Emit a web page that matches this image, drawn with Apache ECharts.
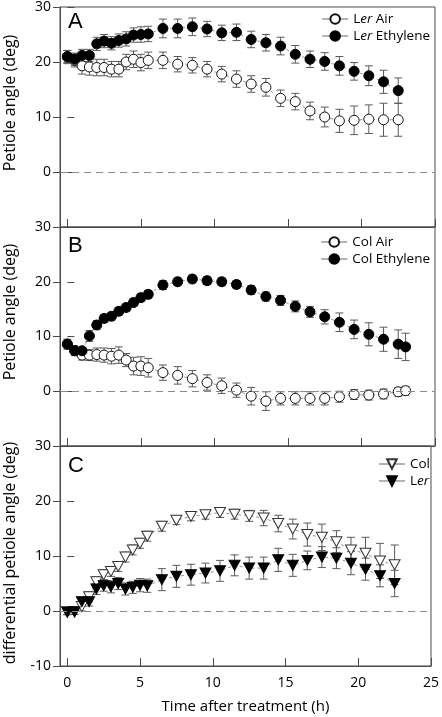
<!DOCTYPE html>
<html>
<head>
<meta charset="utf-8">
<script src="https://cdn.jsdelivr.net/npm/echarts@6/dist/echarts.min.js"></script>
<style>
html,body{margin:0;padding:0;background:#fff;}
#c{width:442px;height:717px;}
</style>
</head>
<body>
<div id="c"></div>
<script>
// ---- data ----
const timeA = [0,0.5,1,1.5,2,2.5,3,3.5,4,4.5,5,5.5,6.5,7.5,8.5,9.5,10.5,11.5,12.5,13.5,14.5,15.5,16.5,17.5,18.5,19.5,20.5,21.5,22.5];
const timeB = [0,0.5,1,1.5,2,2.5,3,3.5,4,4.5,5,5.5,6.5,7.5,8.5,9.5,10.5,11.5,12.5,13.5,14.5,15.5,16.5,17.5,18.5,19.5,20.5,21.5,22.5,23];
const timeC = [0,0.5,1,1.5,2,2.5,3,3.5,4,4.5,5,5.5,6.5,7.5,8.5,9.5,10.5,11.5,12.5,13.5,14.5,15.5,16.5,17.5,18.5,19.5,20.5,21.5,22.5];

const lerAir    = [20.9,20.3,19.3,19.1,19.0,19.0,18.7,18.7,20.0,20.5,19.9,20.3,20.3,19.6,19.4,18.7,17.8,16.9,16.0,15.4,13.4,12.8,11.1,10.0,9.3,9.4,9.6,9.5,9.5];
const lerAirErr = [1.2,1.2,1.5,1.5,1.5,1.5,1.4,1.4,1.4,1.5,1.5,1.5,1.5,1.4,1.4,1.4,1.4,1.5,1.5,1.6,1.5,1.5,1.6,1.8,2.1,2.6,2.6,3.0,3.0];
const lerEth    = [21.0,20.5,21.2,21.2,23.3,23.8,23.4,23.9,24.2,24.9,25.0,25.1,26.1,26.1,26.4,26.0,25.3,25.4,24.1,23.5,22.9,21.4,20.5,20.1,19.3,18.3,17.5,16.4,14.8];
const lerEthErr = [1.1,1.1,1.1,1.1,1.2,1.2,1.2,1.2,1.3,1.3,1.4,1.4,1.7,1.7,1.6,1.4,1.4,1.5,1.5,1.5,1.6,1.6,1.5,1.6,1.7,1.6,1.8,2.1,2.3];

const colAir    = [8.6,7.4,6.6,6.6,6.7,6.6,6.4,6.6,5.7,4.6,4.6,4.3,3.4,2.9,2.3,1.6,1.0,0.2,-0.9,-1.8,-1.3,-1.3,-1.3,-1.3,-1.0,-0.6,-0.7,-0.5,-0.1,0.1];
const colAirErr = [0.9,0.9,0.9,1.0,1.2,1.3,1.4,1.5,1.2,1.6,1.7,1.7,1.4,1.6,1.5,1.4,1.4,1.3,1.6,1.7,1.2,1.2,1.2,1.2,1.0,0.9,0.9,0.9,0.8,0.8];
const colEth    = [8.6,7.4,7.4,10.1,12.1,13.3,13.7,14.6,15.3,16.2,17.1,17.7,19.4,20.0,20.5,20.2,20.0,19.5,18.5,17.3,16.6,15.5,14.5,13.6,12.6,11.3,10.4,9.5,8.6,8.1];
const colEthErr = [0.6,0.6,0.6,1.0,0.8,0.7,0.7,0.7,0.7,0.7,0.7,0.7,0.8,0.7,0.7,0.7,0.7,0.7,0.8,0.8,0.9,1.0,1.0,1.3,1.7,1.7,2.1,2.2,2.6,2.5];

const colDiff    = [-0.2,-0.1,0.8,2.6,5.3,6.6,7.2,8.1,9.8,11.1,12.3,13.6,15.4,16.5,17.2,17.5,17.9,17.6,17.3,16.9,15.9,14.9,13.9,13.4,12.6,11.1,10.5,9.1,8.4];
const colDiffErr = [0.5,0.5,0.8,0.9,0.9,0.9,0.9,0.9,0.9,0.9,0.9,0.9,0.9,0.8,0.8,0.8,0.9,0.9,1.0,1.4,1.5,1.8,2.1,2.4,2.0,2.3,2.9,3.2,3.6];
const lerDiff    = [-0.2,-0.2,1.7,1.7,4.0,4.6,4.4,5.0,4.0,4.3,4.7,4.6,5.7,6.3,6.6,6.9,7.3,8.3,7.8,7.8,9.3,8.3,9.2,9.8,9.6,8.7,7.6,6.4,5.0];
const lerDiffErr = [0.4,0.4,0.8,0.8,1.0,1.0,1.1,1.1,1.1,1.1,1.2,1.2,2.0,2.0,1.9,1.8,1.9,1.9,2.0,2.0,2.1,2.0,1.7,1.9,1.9,2.1,2.0,2.0,2.4];

const xTicks = [0,5,10,15,20,25];
const yTicks = [-10,0,10,20,30];
const panelLetters = ['A','B','C'];
const yTitles = ['Petiole angle (deg)','Petiole angle (deg)','differential petiole angle (deg)'];
const xTitle = 'Time after treatment (h)';

// ---- chart ----
const FONT = 'Open Sans';
const AX = '#4a4a4a';
const chart = echarts.init(document.getElementById('c'), null, {renderer:'canvas'});

const grids = [
  {left:60, right:7, top:7, height:220},
  {left:60, right:7, top:227, height:219},
  {left:60, right:7, top:446, height:220}
].map(g => Object.assign(g, {show:true, borderColor:AX, borderWidth:1, backgroundColor:'transparent'}));

const xAxes = [0,1,2].map(i => ({
  type:'value', gridIndex:i, min:-0.5, max:25,
  axisLine:{show:true, onZero:false, lineStyle:{color:AX, width:1}},
  axisTick:{show:true, inside:true, length:8, customValues:xTicks, lineStyle:{color:AX}},
  axisLabel:{show:i===2, customValues:xTicks, color:'#000', fontFamily:FONT, fontSize:14, margin:10},
  splitLine:{show:false},
  name: i===2 ? xTitle : '',
  nameLocation:'middle', nameGap:33,
  nameTextStyle:{color:'#000', fontFamily:FONT, fontSize:15}
}));

const yAxes = [];
[0,1,2].forEach(i => {
  yAxes.push({
    type:'value', gridIndex:i, min:-10, max:30, interval:10,
    axisLine:{show:true, onZero:false, lineStyle:{color:AX}},
    axisTick:{show:true, length:7, lineStyle:{color:AX}},
    axisLabel:{color:'#000', fontFamily:FONT, fontSize:14, margin:9,
      formatter: v => (i<2 && v===-10) ? '' : String(v)},
    splitLine:{show:false}
  });
  yAxes.push({
    type:'value', gridIndex:i, min:-10, max:30, interval:10, position:'left',
    axisLine:{show:false},
    axisTick:{show:true, inside:true, length:7, lineStyle:{color:AX}},
    axisLabel:{show:false}, splitLine:{show:false}
  });
});

function pts(xs, ys){ return xs.map((x,k)=>[x, ys[k]]); }

function errSeries(gi, xs, ys, es){
  return {
    type:'custom', xAxisIndex:gi, yAxisIndex:gi*2, z:1, silent:true,
    data: xs.map((x,k)=>[x, ys[k]-es[k], ys[k]+es[k]]),
    encode:{x:0, y:[1,2]},
    renderItem:(params, api)=>{
      const x = api.value(0);
      const lo = api.coord([x, api.value(1)]);
      const hi = api.coord([x, api.value(2)]);
      const w = 4;
      const st = {stroke:'#5a5a5a', lineWidth:1};
      return {type:'group', children:[
        {type:'line', shape:{x1:lo[0], y1:lo[1], x2:hi[0], y2:hi[1]}, style:st},
        {type:'line', shape:{x1:lo[0]-w, y1:lo[1], x2:lo[0]+w, y2:lo[1]}, style:st},
        {type:'line', shape:{x1:hi[0]-w, y1:hi[1], x2:hi[0]+w, y2:hi[1]}, style:st}
      ]};
    }
  };
}

function lineSeries(gi, name, xs, ys, opts){
  return Object.assign({
    type:'line', name:name, xAxisIndex:gi, yAxisIndex:gi*2, z:3,
    data: pts(xs, ys),
    symbol:'circle', symbolSize:10,
    lineStyle:{color:'#777', width:0.8, type:[3,3]},
    emphasis:{disabled:true},
    animation:false
  }, opts);
}

const openC = {symbol:'circle', itemStyle:{color:'#fff', borderColor:'#111', borderWidth:1}};
const fillC = {symbol:'circle', itemStyle:{color:'#000', borderColor:'#000', borderWidth:1}};
const openT = {symbol:'triangle', symbolRotate:180, symbolSize:[11,10], itemStyle:{color:'#fff', borderColor:'#333', borderWidth:1}};
const fillT = {symbol:'triangle', symbolRotate:180, symbolSize:[11,10], itemStyle:{color:'#000', borderColor:'#000', borderWidth:1}};

const zeroLine = {
  silent:true, symbol:'none', label:{show:false},
  lineStyle:{color:'#8a8a8a', type:[7,5], width:1},
  data:[{yAxis:0}]
};

const series = [
  errSeries(0, timeA, lerAir, lerAirErr),
  errSeries(0, timeA, lerEth, lerEthErr),
  Object.assign(lineSeries(0, 'Ler Air', timeA, lerAir, openC), {markLine:zeroLine}),
  lineSeries(0, 'Ler Ethylene', timeA, lerEth, fillC),
  errSeries(1, timeB, colAir, colAirErr),
  errSeries(1, timeB, colEth, colEthErr),
  Object.assign(lineSeries(1, 'Col Air', timeB, colAir, openC), {markLine:zeroLine}),
  lineSeries(1, 'Col Ethylene', timeB, colEth, fillC),
  errSeries(2, timeC, colDiff, colDiffErr),
  errSeries(2, timeC, lerDiff, lerDiffErr),
  Object.assign(lineSeries(2, 'Col', timeC, colDiff, openT), {markLine:zeroLine}),
  lineSeries(2, 'Ler', timeC, lerDiff, fillT)
];

const legText = {color:'#000', fontFamily:FONT, fontSize:13.5,
  rich:{n:{fontFamily:FONT, fontSize:13.5, color:'#000'}, it:{fontFamily:FONT, fontSize:13.5, fontStyle:'italic', color:'#000'}}};
const legFmt = name => name.indexOf('Ler')===0 ? '{n|L}{it|er}{n|' + name.slice(3) + '}' : name;
function legend(data, top){
  return {data:data, orient:'vertical', right:12, top:top, padding:0, itemGap:3,
    itemWidth:26, itemHeight:12, selectedMode:false, textStyle:legText, formatter:legFmt,
    lineStyle:{type:'solid', color:'#666', width:1}};
}

const graphics = [];
const letterTops = [11, 235, 455];
panelLetters.forEach((L,i)=>graphics.push({type:'text', left:68, top:letterTops[i],
  style:{text:L, font:'22px "Liberation Sans"', fill:'#000'}}));
const titleY = [103, 312, 553];
yTitles.forEach((t,i)=>graphics.push({type:'text', x:10, y:titleY[i], rotation:Math.PI/2,
  style:{text:t, font:'16px "' + FONT + '"', fill:'#000', align:'center', verticalAlign:'middle'}}));

chart.setOption({
  animation:false,
  backgroundColor:'#fff',
  grid:grids,
  xAxis:xAxes,
  yAxis:yAxes,
  legend:[legend(['Ler Air','Ler Ethylene'], 12), legend(['Col Air','Col Ethylene'], 235), legend(['Col','Ler'], 457)],
  series:series,
  graphic:graphics
});
</script>
</body>
</html>
